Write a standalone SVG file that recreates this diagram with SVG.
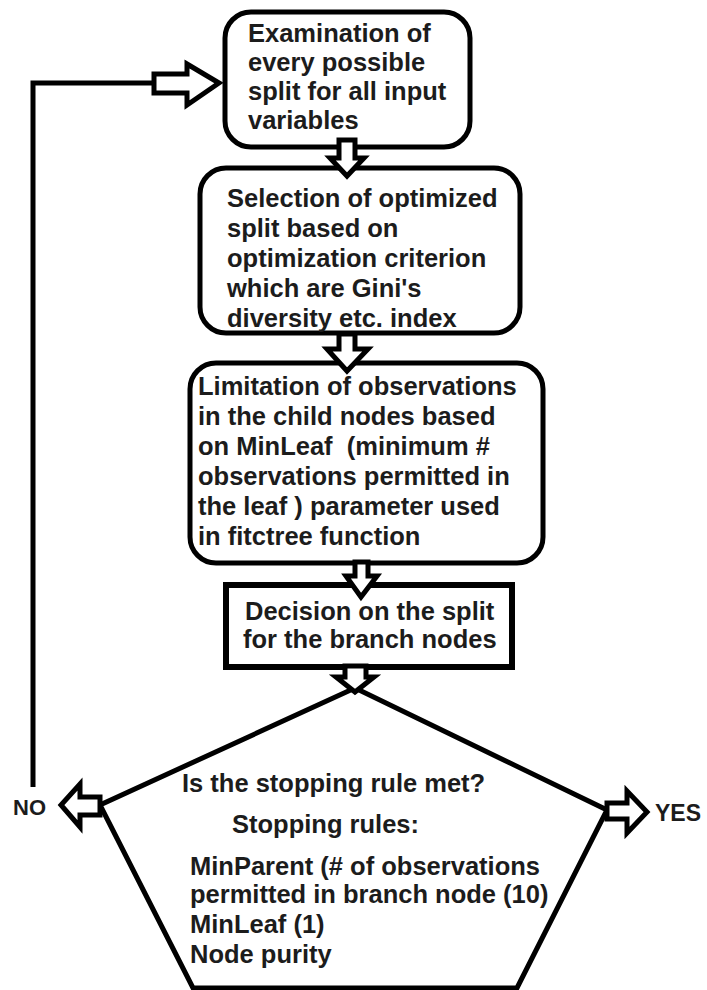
<svg xmlns="http://www.w3.org/2000/svg" width="707" height="990" viewBox="0 0 707 990">
<style>
.box{fill:#fff;stroke:#000;stroke-width:5}
.arr{fill:#fff;stroke:#000;stroke-width:5;stroke-linejoin:miter}
.ln{fill:none;stroke:#000;stroke-width:5}
text{font-family:"Liberation Sans",Arial,sans-serif;font-weight:bold;font-size:25.5px;fill:#1c1c1c}
.lbl{font-size:22px}
</style>
<rect width="707" height="990" fill="#fff"/>
<g id="n1">
<rect class="box" x="225" y="12" width="245" height="135" rx="26"/>
<text x="248" y="42">Examination of</text>
<text x="248" y="71">every possible</text>
<text x="248" y="100">split for all input</text>
<text x="248" y="129">variables</text>
</g>
<g id="n2">
<rect class="box" x="200" y="168" width="320" height="165" rx="26"/>
<text x="227" y="207">Selection of optimized</text>
<text x="227" y="237">split based on</text>
<text x="227" y="267">optimization criterion</text>
<text x="227" y="297">which are Gini's</text>
<text x="227" y="327">diversity etc. index</text>
</g>
<g id="n3">
<rect class="box" x="190" y="363" width="353" height="200" rx="26"/>
<text x="198" y="395">Limitation of observations</text>
<text x="198" y="425">in the child nodes based</text>
<text x="198" y="455">on MinLeaf&#160; (minimum #</text>
<text x="198" y="485">observations permitted in</text>
<text x="198" y="515">the leaf ) parameter used</text>
<text x="198" y="545">in fitctree function</text>
</g>
<g id="n4">
<rect class="box" x="226" y="585" width="286" height="82" style="stroke-width:6"/>
<text x="245" y="620">Decision on the split</text>
<text x="243" y="648">for the branch nodes</text>
</g>
<g id="n5">
<polygon class="box" points="355,688 607,810 517,988 193,988 100,805"/>
<text x="182" y="792">Is the stopping rule met?</text>
<text x="232" y="833">Stopping rules:</text>
<text x="190" y="875">MinParent (# of observations</text>
<text x="190" y="903">permitted in branch node (10)</text>
<text x="190" y="933">MinLeaf (1)</text>
<text x="190" y="963">Node purity</text>
</g>
<g id="lNO"><text class="lbl" x="13" y="815">NO</text></g>
<g id="lYES"><text class="lbl" x="655" y="821" style="font-size:23px">YES</text></g>
<g id="connectors">
<polyline class="ln" points="33,787 33,83 154,83"/>
<polygon class="arr" points="154,74 187,74 187,64 219,83 187,105 187,93 154,93"/>
<polygon class="arr" points="339,140 355,140 355,158 364,158 347,176 330,158 339,158"/>
<polygon class="arr" points="339,334 355,334 355,349 368,349 347,371 327,349 339,349"/>
<polygon class="arr" points="355,562 368,562 368,576 377,576 361,597 346,576 355,576"/>
<polygon class="arr" points="345,666 366,666 366,677 374,677 355,692 336,677 345,677"/>
<polygon class="arr" points="100,797 80,797 80,784 61,805 80,827 80,815 100,815"/>
<polygon class="arr" points="607,803 627,803 627,791 647,812 627,833 627,819 607,819"/>
</g>
</svg>
